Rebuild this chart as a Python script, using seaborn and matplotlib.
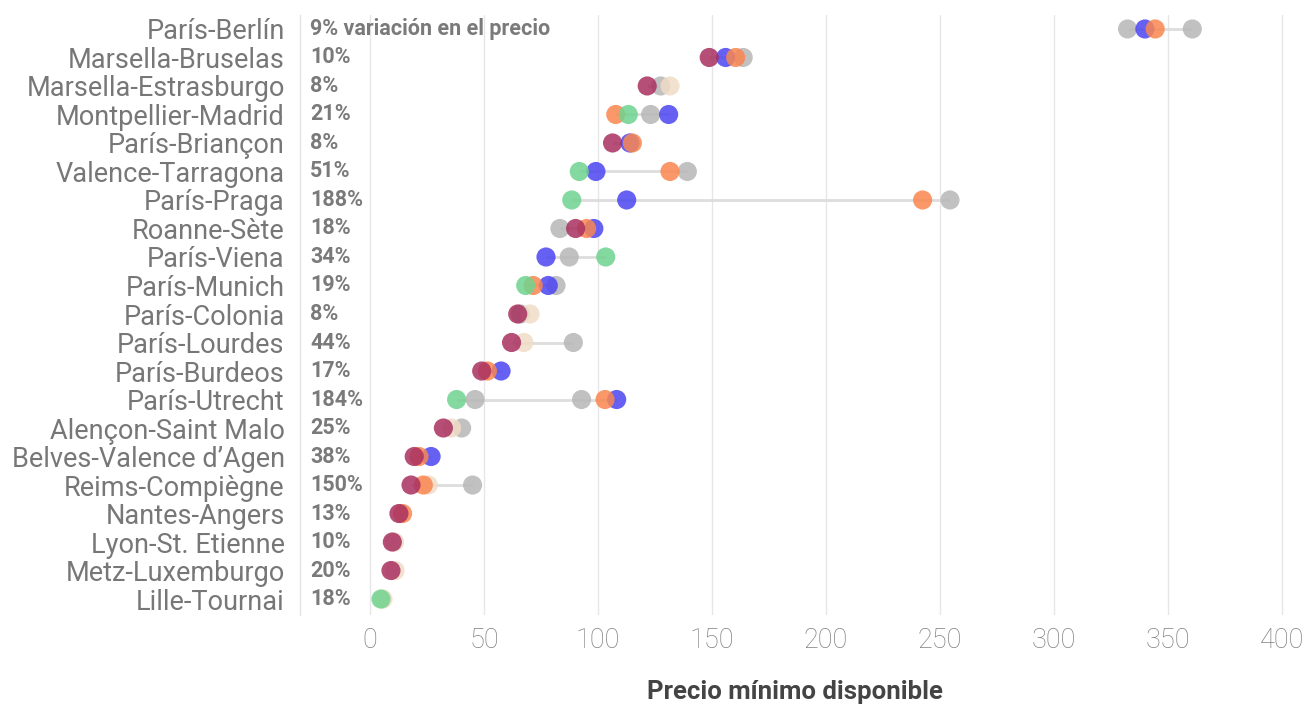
import numpy as np
import pandas as pd
import matplotlib
matplotlib.use("Agg")
import matplotlib.pyplot as plt
import matplotlib.transforms as mtransforms
import seaborn as sns

nan = np.nan

rutas = ["París-Berlín", "Marsella-Bruselas", "Marsella-Estrasburgo", "Montpellier-Madrid",
         "París-Briançon", "Valence-Tarragona", "París-Praga", "Roanne-Sète", "París-Viena",
         "París-Munich", "París-Colonia", "París-Lourdes", "París-Burdeos", "París-Utrecht",
         "Alençon-Saint Malo", "Belves-Valence d’Agen", "Reims-Compiègne", "Nantes-Angers",
         "Lyon-St. Etienne", "Metz-Luxemburgo", "Lille-Tournai"]

variacion = ["9% variación en el precio", "10%", "8%", "21%", "8%", "51%", "188%", "18%", "34%",
             "19%", "8%", "44%", "17%", "184%", "25%", "38%", "150%", "13%", "10%", "20%", "18%"]

# precio mínimo por consulta (una lista por color)
gris_1 = [332.3, 163.7, 127.5, 123.1, nan, 139.2, 254.4, 83.3, 87.4, 81.6, 66.0,
          89.2, nan, 46.1, 40.2, nan, 45.0, nan, nan, nan, nan]
gris_2 = [360.7, nan, nan, nan, nan, nan, nan, nan, nan, nan, nan,
          nan, nan, 92.8, nan, nan, nan, nan, nan, nan, nan]
beige = [nan, nan, 131.6, nan, nan, nan, nan, nan, nan, nan, 70.2,
         67.5, nan, nan, 35.8, nan, 25.6, nan, 10.8, 11.0, 5.7]
azul = [339.9, 156.0, nan, 131.0, 114.0, 99.1, 112.6, 98.2, 77.2, 78.2, nan,
        nan, 57.5, 108.2, nan, 26.8, nan, nan, nan, nan, nan]
naranja = [344.4, 160.4, nan, 107.8, 115.1, 131.6, 242.4, 95.0, nan, 71.6, nan,
           nan, 51.5, 103.1, nan, 21.5, 23.4, 14.3, nan, nan, nan]
verde = [nan, nan, nan, 113.3, nan, 91.8, 88.5, nan, 103.4, 68.3, nan,
         nan, nan, 38.0, nan, nan, nan, nan, nan, nan, 4.8]
granate = [nan, 148.8, 121.6, nan, 106.4, nan, nan, 90.2, nan, nan, 64.8,
           62.1, 49.0, nan, 32.2, 19.4, 18.0, 12.7, 9.8, 9.2, nan]

series = {"gris_1": gris_1, "gris_2": gris_2, "beige": beige, "azul": azul,
          "naranja": naranja, "verde": verde, "granate": granate}
colores = {"gris_1": "#b7b7b7", "gris_2": "#b7b7b7", "beige": "#f1dcc8", "azul": "#4b45f2",
           "naranja": "#fa8650", "verde": "#6fd38f", "granate": "#a8305f"}

frames = []
for nombre, vals in series.items():
    frames.append(pd.DataFrame({"ruta": rutas, "pos": range(len(rutas)),
                                "precio": vals, "serie": nombre}))
df = pd.concat(frames, ignore_index=True).dropna()

rango = df.groupby("pos")["precio"].agg(["min", "max"])

sns.set_style("white")
plt.rcParams["font.family"] = ["Roboto", "DejaVu Sans"]

fig = plt.figure(figsize=(13.12, 7.05), dpi=100)
ax = fig.add_axes([300 / 1312, 90 / 705, 1012 / 1312, 600 / 705])

ax.hlines(rango.index, rango["min"], rango["max"], color="#dddddd", lw=2, zorder=1)
sns.scatterplot(data=df, x="precio", y="pos", hue="serie", palette=colores,
                hue_order=list(series.keys()), s=190, alpha=0.85, edgecolor="none",
                legend=False, ax=ax, zorder=3)

ax.set_xlim(-30.7, 413.2)
ax.set_ylim(len(rutas) - 0.44, -0.49)
ax.set_xticks(range(0, 401, 50))
ax.set_yticks(range(len(rutas)))
ax.set_yticklabels(rutas)
ax.grid(axis="x", color="#e6e6e6", lw=1)
ax.grid(axis="y", visible=False)
ax.set_axisbelow(True)

for s in ["top", "right", "bottom"]:
    ax.spines[s].set_visible(False)
ax.spines["left"].set_color("#e3e3e3")
ax.spines["left"].set_linewidth(1)

ax.tick_params(axis="y", length=8, width=1, color="#e3e3e3", pad=3,
               labelsize=19.5, labelcolor="#777777")
ax.tick_params(axis="x", length=0, pad=9, labelsize=19.5, labelcolor="#808080")
for lab in ax.get_xticklabels():
    lab.set_fontweight("light")

ax.set_ylabel("")
ax.set_xlabel("Precio mínimo disponible", fontsize=18.5, fontweight="bold",
              color="#444444")
ax.xaxis.set_label_coords(0.489, -0.108)

trans = mtransforms.blended_transform_factory(ax.transAxes, ax.transData)
for i, txt in enumerate(variacion):
    ax.text(0.0099, i, txt, transform=trans, ha="left", va="center",
            fontsize=15.5, fontweight="bold", color="#7a7a7a")

fig.savefig("out.png", dpi=100)
